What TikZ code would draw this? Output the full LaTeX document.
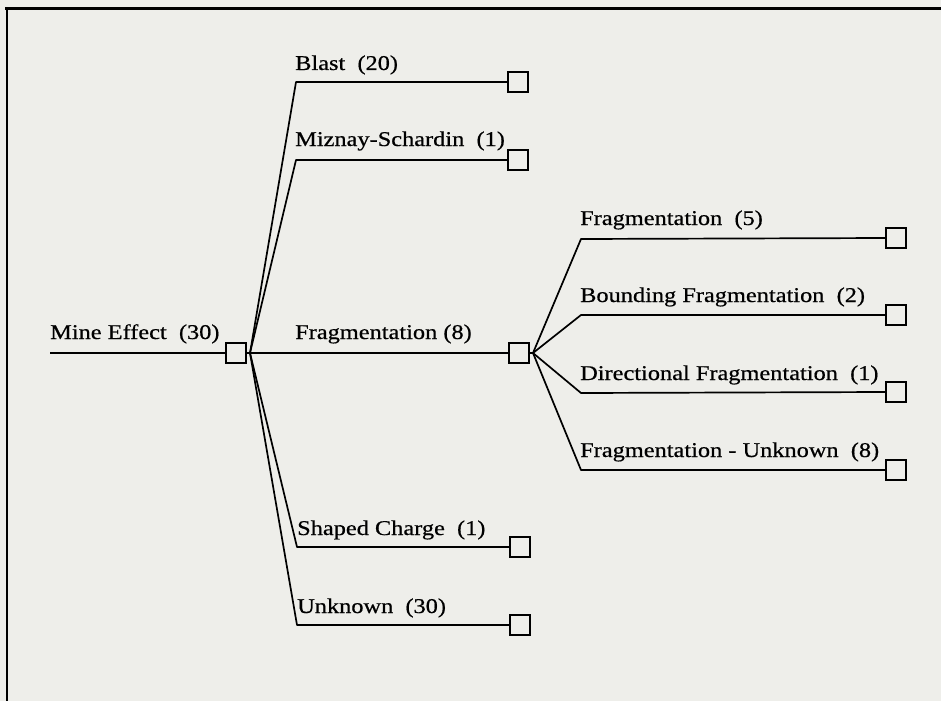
\documentclass[tikz,border=0pt]{standalone}
\usepackage{fontspec}
\setmainfont[FakeStretch=1.16,FakeBold=0.6]{Liberation Serif}
\begin{document}
\begin{tikzpicture}[x=1pt,y=-1pt,
  leaf/.style={draw, fill=bg, minimum size=20pt, inner sep=0pt, line width=1.5pt},
  lbl/.style={anchor=base west, inner sep=0pt, font=\fontsize{21}{25}\selectfont},
  conn/.style={line width=1.7pt, line join=round}]
\definecolor{bg}{HTML}{EEEEEA}
\fill[bg] (0,0) rectangle (941,701);
\useasboundingbox (0,0) rectangle (941,701);
% frame
\draw[line width=3pt] (5,9) -- (941,9);
\draw[line width=2.2pt] (7,9) -- (7,701);
% root
\coordinate (rs) at (50,353);
\node[leaf] (root) at (236,353) {};
\draw[conn] (rs) -- (root.west);
\node[lbl] (lroot) at (50,339) {Mine Effect\ \ (30)};
\coordinate (f1) at (250,353);
\draw[conn] (root.east) -- (f1);
% first level
\node[leaf] (blast) at (518,82) {};
\node[leaf] (mizn) at (518,160) {};
\node[leaf] (frag) at (519,353) {};
\node[leaf] (shaped) at (520,547) {};
\node[leaf] (unk) at (520,625) {};
\coordinate (cblast) at (296,82);
\coordinate (cmizn) at (296,160);
\coordinate (cshaped) at (297,547);
\coordinate (cunk) at (297,625);
\draw[conn] (f1) -- (cblast) -- (blast.west);
\draw[conn] (f1) -- (cmizn) -- (mizn.west);
\draw[conn] (f1) -- (frag.west);
\draw[conn] (f1) -- (cshaped) -- (shaped.west);
\draw[conn] (f1) -- (cunk) -- (unk.west);
\node[lbl] (lblast) at (295,70) {Blast\ \ (20)};
\node[lbl] (lmizn) at (295,146) {Miznay-Schardin\ \ (1)};
\node[lbl] (lfrag) at (295,339) {Fragmentation (8)};
\node[lbl] (lshaped) at (297,535) {Shaped Charge\ \ (1)};
\node[lbl] (lunk) at (297,613) {Unknown\ \ (30)};
% second level
\coordinate (f2) at (533,353);
\draw[conn] (frag.east) -- (f2);
\node[leaf] (s1) at (896,238) {};
\node[leaf] (s2) at (896,315) {};
\node[leaf] (s3) at (896,392) {};
\node[leaf] (s4) at (896,470) {};
\coordinate (c1) at (581,239);
\coordinate (c2) at (581,315);
\coordinate (c3) at (581,393);
\coordinate (c4) at (581,470);
\draw[conn] (f2) -- (c1) -- (s1.west);
\draw[conn] (f2) -- (c2) -- (s2.west);
\draw[conn] (f2) -- (c3) -- (s3.west);
\draw[conn] (f2) -- (c4) -- (s4.west);
\node[lbl] (l1) at (580,225) {Fragmentation\ \ (5)};
\node[lbl] (l2) at (580,302) {Bounding Fragmentation\ \ (2)};
\node[lbl] (l3) at (580,380) {Directional Fragmentation\ \ (1)};
\node[lbl] (l4) at (580,457) {Fragmentation - Unknown\ \ (8)};
\end{tikzpicture}
\end{document}
